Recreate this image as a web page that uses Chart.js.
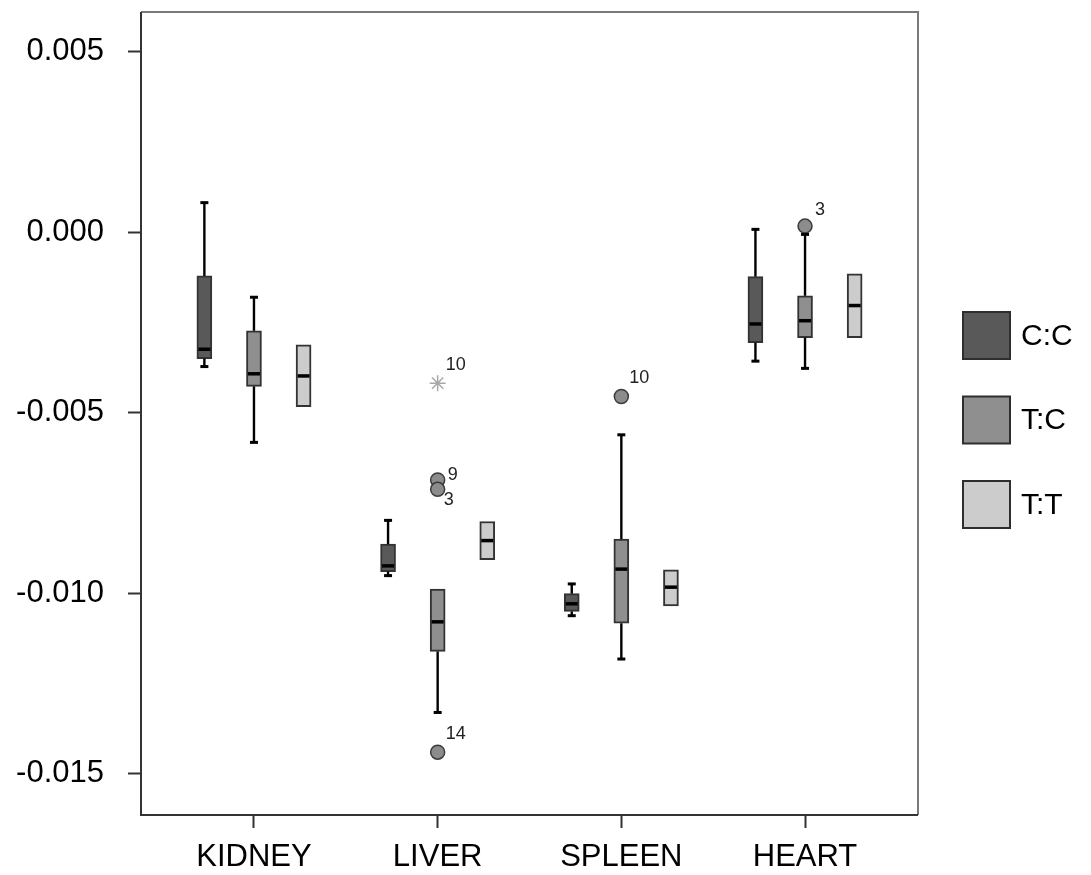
<!DOCTYPE html>
<html>
<head>
<meta charset="utf-8">
<script src="https://cdn.jsdelivr.net/npm/chart.js@4.4.0/dist/chart.umd.min.js"></script>
<style>
    html, body { margin: 0; padding: 0; background: #fff; }
    #wrap { width: 1091px; height: 875px; }
</style>
</head>
<body>
<div id="wrap"><canvas id="boxChart" width="1091" height="875"></canvas></div>
<script>
// Categorías y grupos
const categories = ['KIDNEY', 'LIVER', 'SPLEEN', 'HEART'];
const seriesNames = ['C:C', 'T:C', 'T:T'];
const yTicks = [-0.015, -0.010, -0.005, 0.000, 0.005];

// Estadísticos de cada caja: [serie][categoría]
const lowerWhisker = [
    [-0.00372, -0.00951, -0.01062, -0.00357],
    [-0.00582, -0.01330, -0.01182, -0.00377],
    [-0.00483, -0.00907, -0.01035, -0.00292]
];
const q1 = [
    [-0.00350, -0.00940, -0.01050, -0.00306],
    [-0.00427, -0.01161, -0.01083, -0.00292],
    [-0.00483, -0.00907, -0.01035, -0.00292]
];
const median = [
    [-0.00324, -0.00924, -0.01029, -0.00254],
    [-0.00392, -0.01079, -0.00933, -0.00245],
    [-0.00398, -0.00854, -0.00983, -0.00203]
];
const q3 = [
    [-0.00121, -0.00864, -0.01001, -0.00123],
    [-0.00273, -0.00988, -0.00850, -0.00176],
    [-0.00312, -0.00801, -0.00935, -0.00115]
];
const upperWhisker = [
    [0.00082, -0.00798, -0.00974, 0.00008],
    [-0.00180, -0.00988, -0.00561, -0.00006],
    [-0.00312, -0.00801, -0.00935, -0.00115]
];

// Valores atípicos (cat = índice de categoría, series = índice de grupo)
const outliers = [
    { cat: 1, series: 1, value: -0.00418, id: '10', extreme: true },
    { cat: 1, series: 1, value: -0.00686, id: '9', extreme: false },
    { cat: 1, series: 1, value: -0.00712, id: '3', extreme: false },
    { cat: 1, series: 1, value: -0.01440, id: '14', extreme: false },
    { cat: 2, series: 1, value: -0.00455, id: '10', extreme: false },
    { cat: 3, series: 1, value: 0.00017, id: '3', extreme: false }
];

const seriesColors = ['#595959', '#8f8f8f', '#cccccc'];
const groupOffset = [-0.27, 0, 0.27];
const fontFamily = "'Liberation Sans', Arial, sans-serif";

// posición de las etiquetas de atípicos (dx, dy) respecto al punto
const labelShift = [[8, -18], [10, -5], [6, 11], [8, -18], [8, -18], [10, -16]];

const boxExtras = {
    id: 'boxExtras',
    afterDatasetsDraw(chart) {
        const ctx = chart.ctx;
        const xs = chart.scales.x;
        const ys = chart.scales.y;
        const half = 7;
        const capHalf = 4;
        ctx.save();
        ctx.lineCap = 'butt';
        seriesNames.forEach((name, s) => {
            categories.forEach((cat, i) => {
                const px = xs.getPixelForValue(i + groupOffset[s]);
                const pLo = ys.getPixelForValue(lowerWhisker[s][i]);
                const pQ1 = ys.getPixelForValue(q1[s][i]);
                const pMed = ys.getPixelForValue(median[s][i]);
                const pQ3 = ys.getPixelForValue(q3[s][i]);
                const pHi = ys.getPixelForValue(upperWhisker[s][i]);

                ctx.strokeStyle = '#000';
                if (upperWhisker[s][i] > q3[s][i]) {
                    ctx.lineWidth = 2.4;
                    ctx.beginPath();
                    ctx.moveTo(px, pQ3);
                    ctx.lineTo(px, pHi);
                    ctx.stroke();
                    ctx.lineWidth = 3;
                    ctx.beginPath();
                    ctx.moveTo(px - capHalf, pHi);
                    ctx.lineTo(px + capHalf, pHi);
                    ctx.stroke();
                }
                if (lowerWhisker[s][i] < q1[s][i]) {
                    ctx.lineWidth = 2.4;
                    ctx.beginPath();
                    ctx.moveTo(px, pQ1);
                    ctx.lineTo(px, pLo);
                    ctx.stroke();
                    ctx.lineWidth = 3;
                    ctx.beginPath();
                    ctx.moveTo(px - capHalf, pLo);
                    ctx.lineTo(px + capHalf, pLo);
                    ctx.stroke();
                }
                // mediana
                ctx.lineWidth = 3.5;
                ctx.beginPath();
                ctx.moveTo(px - half + 1, pMed);
                ctx.lineTo(px + half - 1, pMed);
                ctx.stroke();
            });
        });

        // etiquetas de los atípicos
        ctx.fillStyle = '#222';
        ctx.font = '18px ' + fontFamily;
        ctx.textAlign = 'left';
        ctx.textBaseline = 'middle';
        outliers.forEach((o, k) => {
            const px = xs.getPixelForValue(o.cat + groupOffset[o.series]);
            const py = ys.getPixelForValue(o.value);
            ctx.fillText(o.id, px + labelShift[k][0], py + labelShift[k][1]);
        });
        ctx.restore();
    },
    afterDraw(chart) {
        const ctx = chart.ctx;
        const a = chart.chartArea;
        ctx.save();
        // marco
        ctx.lineWidth = 2;
        ctx.strokeStyle = '#7a7a7a';
        ctx.beginPath();
        ctx.moveTo(a.left, a.top);
        ctx.lineTo(a.right, a.top);
        ctx.lineTo(a.right, a.bottom);
        ctx.stroke();
        ctx.strokeStyle = '#333';
        ctx.beginPath();
        ctx.moveTo(a.right, a.bottom);
        ctx.lineTo(a.left, a.bottom);
        ctx.lineTo(a.left, a.top);
        ctx.stroke();

        // leyenda
        const lx = a.right + 45;
        const top = 312;
        const step = 84.5;
        const size = 47;
        ctx.font = '30px ' + fontFamily;
        ctx.textAlign = 'left';
        ctx.textBaseline = 'middle';
        seriesNames.forEach((name, s) => {
            const y = top + s * step;
            ctx.fillStyle = seriesColors[s];
            ctx.fillRect(lx, y, size, size);
            ctx.lineWidth = 2;
            ctx.strokeStyle = '#2e2e2e';
            ctx.strokeRect(lx, y, size, size);
            ctx.fillStyle = '#000';
            ctx.fillText(name, lx + size + 11, y + size / 2 + 1);
        });
        ctx.restore();
    }
};

const boxDatasets = seriesNames.map((name, s) => ({
    type: 'bar',
    label: name,
    data: categories.map((c, i) => ({ x: i + groupOffset[s], y: [q1[s][i], q3[s][i]] })),
    backgroundColor: seriesColors[s],
    borderColor: '#333',
    borderWidth: 2,
    borderSkipped: false,
    barThickness: 15,
    grouped: false
}));

const circleOutliers = {
    type: 'scatter',
    label: 'atipicos',
    order: -1,
    data: outliers.filter(o => !o.extreme).map(o => ({ x: o.cat + groupOffset[o.series], y: o.value })),
    pointStyle: 'circle',
    pointRadius: 7,
    backgroundColor: '#8c8c8c',
    borderColor: '#3c3c3c',
    borderWidth: 1.5
};

const starOutliers = {
    type: 'scatter',
    label: 'extremos',
    order: -1,
    data: outliers.filter(o => o.extreme).map(o => ({ x: o.cat + groupOffset[o.series], y: o.value })),
    pointStyle: 'star',
    pointRadius: 8,
    backgroundColor: '#a8a8a8',
    borderColor: '#a8a8a8',
    borderWidth: 1.5
};

var ctxBox = document.getElementById('boxChart').getContext('2d');
new Chart(ctxBox, {
    type: 'bar',
    data: {
        datasets: boxDatasets.concat([circleOutliers, starOutliers])
    },
    options: {
        responsive: false,
        animation: false,
        devicePixelRatio: 1,
        events: [],
        layout: { padding: { top: 12, right: 173, bottom: 0, left: 0 } },
        plugins: {
            legend: { display: false },
            tooltip: { enabled: false }
        },
        scales: {
            x: {
                type: 'linear',
                min: -0.615,
                max: 3.615,
                offset: false,
                afterFit: function (scale) {
                    scale.height = 60;
                    scale.paddingLeft = 0;
                    scale.paddingRight = 0;
                },
                afterBuildTicks: function (scale) {
                    scale.ticks = categories.map((c, i) => ({ value: i }));
                },
                grid: { offset: false, drawOnChartArea: false, drawTicks: true, tickLength: 13, tickColor: '#333', tickWidth: 2 },
                border: { display: false },
                ticks: {
                    padding: 11,
                    color: '#000',
                    font: { family: fontFamily, size: 31 },
                    maxRotation: 0,
                    autoSkip: false,
                    callback: function (value) { return categories[value]; }
                }
            },
            y: {
                type: 'linear',
                min: -0.01614,
                max: 0.0061,
                afterFit: function (scale) {
                    scale.width = 141;
                    scale.paddingTop = 0;
                    scale.paddingBottom = 0;
                },
                afterBuildTicks: function (scale) {
                    scale.ticks = yTicks.map(v => ({ value: v }));
                },
                grid: { drawOnChartArea: false, drawTicks: true, tickLength: 13, tickColor: '#333', tickWidth: 2 },
                border: { display: false },
                ticks: {
                    padding: 24,
                    color: '#000',
                    font: { family: fontFamily, size: 31 },
                    callback: function (value) { return Number(value).toFixed(3); }
                }
            }
        }
    },
    plugins: [boxExtras]
});
</script>
</body>
</html>
